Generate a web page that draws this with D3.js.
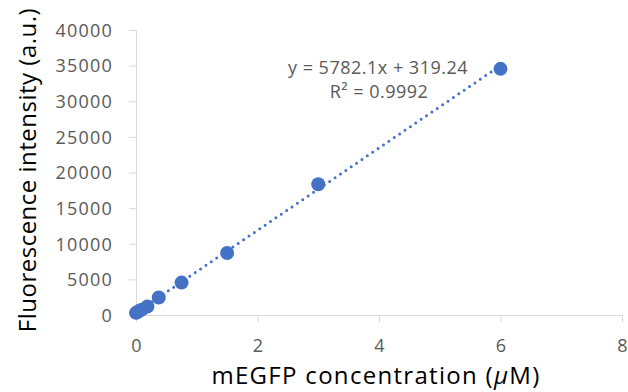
<!DOCTYPE html>
<html>
<head>
  <meta charset="utf-8">
  <style>
    body { margin: 0; background: #fff; }
    text { font-family: "Open Sans", sans-serif; }
  </style>
  <script src="https://d3js.org/d3.v7.min.js"></script>
</head>
<body>
  <svg></svg>
  <script>
    // data
    var conc = [0, 0.023, 0.047, 0.094, 0.1875, 0.375, 0.75, 1.5, 3, 6]
    var intensity = [300, 400, 550, 750, 1200, 2450, 4550, 8700, 18350, 34550]
    var slope = 5782.1
    var intercept = 319.24
    var xTicks = [0, 2, 4, 6, 8]
    var yTicks = [0, 5000, 10000, 15000, 20000, 25000, 30000, 35000, 40000]

    var w = 628
    var h = 392
    var blue = "#4472C4"

    var svg = d3.select("svg").attr("width", w).attr("height", h)

    var x = d3.scaleLinear().domain([0, 8]).range([136, 622])
    var y = d3.scaleLinear().domain([0, 40000]).range([315, 30])

    // axes
    var xAxis = d3.axisBottom(x).tickValues(xTicks).tickSize(7).tickSizeOuter(0)
      .tickFormat(d3.format("d"))
    var yAxis = d3.axisLeft(y).tickValues(yTicks).tickSize(7).tickSizeOuter(0)
      .tickFormat(d3.format("d"))

    var gx = svg.append("g").attr("transform", "translate(0,315)").call(xAxis)
    var gy = svg.append("g").attr("transform", "translate(136,0)").call(yAxis)

    svg.selectAll(".domain, .tick line").attr("stroke", "#d9d9d9").attr("stroke-width", 1)
    gx.selectAll(".tick text").attr("y", 24)
      .attr("fill", "#595959").style("font-size", "18px")
    gy.selectAll(".tick text").attr("x", -23).attr("dy", "0.35em")
      .attr("fill", "#595959").style("font-size", "18px").style("letter-spacing", "1.2px")

    // trendline
    svg.append("line")
      .attr("x1", x(0)).attr("y1", y(intercept))
      .attr("x2", x(6)).attr("y2", y(slope * 6 + intercept))
      .attr("stroke", blue)
      .attr("stroke-width", 3)
      .attr("stroke-linecap", "round")
      .attr("stroke-dasharray", "0 6.5")

    // points
    svg.selectAll("circle")
      .data(conc)
      .enter()
      .append("circle")
      .attr("cx", function(d) { return x(d) })
      .attr("cy", function(d, i) { return y(intensity[i]) })
      .attr("r", 7)
      .attr("fill", blue)

    // equation
    svg.append("text").attr("x", 378).attr("y", 74).attr("text-anchor", "middle")
      .attr("fill", "#595959").style("font-size", "18px").style("letter-spacing", "0.5px")
      .text("y = 5782.1x + 319.24")
    svg.append("text").attr("x", 379).attr("y", 98).attr("text-anchor", "middle")
      .attr("fill", "#595959").style("font-size", "18px").style("letter-spacing", "0.5px")
      .text("R² = 0.9992")

    // axis titles
    var xt = svg.append("text").attr("x", 376).attr("y", 384).attr("text-anchor", "middle")
      .attr("fill", "#000").style("font-size", "24px").style("letter-spacing", "1.3px")
    xt.append("tspan").text("mEGFP concentration (")
    xt.append("tspan").style("font-style", "italic").text("μ")
    xt.append("tspan").text("M)")

    svg.append("text")
      .attr("transform", "translate(36,170) rotate(-90)")
      .attr("text-anchor", "middle")
      .attr("fill", "#000").style("font-size", "24px").style("letter-spacing", "0.5px")
      .text("Fluorescence intensity (a.u.)")
  </script>
</body>
</html>
